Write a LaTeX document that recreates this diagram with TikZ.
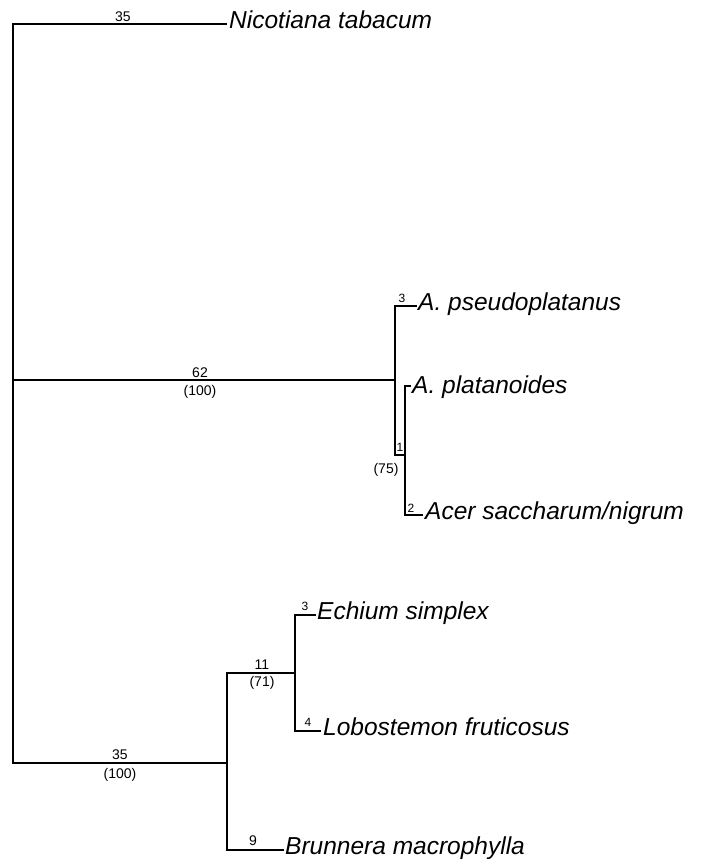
\documentclass[tikz,border=0pt]{standalone}
\usepackage{fontspec}
\setmainfont{Liberation Sans}
\begin{document}
\begin{tikzpicture}[x=1pt,y=-1pt,
  br/.style={line width=2pt,line cap=rect},
  taxon/.style={anchor=base west,inner sep=0pt,font=\fontsize{24.5}{26}\selectfont\itshape},
  num/.style={inner sep=0pt,font=\fontsize{14}{15}\selectfont},
  snum/.style={inner sep=0pt,font=\fontsize{12}{13}\selectfont}]
\useasboundingbox (0,0) rectangle (705,862);
% internal nodes
\coordinate (rootT) at (13,24);
\coordinate (rootM) at (13,380);
\coordinate (rootB) at (13,763);
\coordinate (acerT) at (395,306);
\coordinate (acerM) at (395,380);
\coordinate (acerB) at (395,455);
\coordinate (inT) at (405,386);
\coordinate (inM) at (405,455);
\coordinate (inB) at (405,515);
\coordinate (borT) at (227,673);
\coordinate (borM) at (227,763);
\coordinate (borB) at (227,850);
\coordinate (lobT) at (295,615);
\coordinate (lobM) at (295,673);
\coordinate (lobB) at (295,731);
% leaf tips
\coordinate (tNic) at (226,24);
\coordinate (tPse) at (416,306);
\coordinate (tPla) at (410,386);
\coordinate (tSac) at (422,515);
\coordinate (tEch) at (315,615);
\coordinate (tLob) at (320,731);
\coordinate (tBru) at (283,850);
% taxa
\node[taxon] (nic) at (229,28) {Nicotiana tabacum};
\node[taxon] (pse) at (418,310) {A. pseudoplatanus};
\node[taxon] (pla) at (412,393) {A. platanoides};
\node[taxon] (sac) at (425,519) {Acer saccharum/nigrum};
\node[taxon] (ech) at (317,619) {Echium simplex};
\node[taxon] (lob) at (323,735) {Lobostemon fruticosus};
\node[taxon] (bru) at (285,854) {Brunnera macrophylla};
% branches
\draw[br] (rootT) -- (rootB);
\draw[br] (rootT) -- (tNic);
\draw[br] (rootM) -- (acerM);
\draw[br] (rootB) -- (borM);
\draw[br] (acerT) -- (acerB);
\draw[br] (acerT) -- (tPse);
\draw[br] (acerB) -- (inM);
\draw[br] (inT) -- (inB);
\draw[br] (inT) -- (tPla);
\draw[br] (inB) -- (tSac);
\draw[br] (borT) -- (borB);
\draw[br] (borT) -- (lobM);
\draw[br] (borB) -- (tBru);
\draw[br] (lobT) -- (lobB);
\draw[br] (lobT) -- (tEch);
\draw[br] (lobB) -- (tLob);
% branch labels
\node[num] (l1) at (123,17) {35};
\node[num] (l2) at (200,373) {62};
\node[num] (l3) at (200,392) {(100)};
\node[snum] (l4) at (402,298) {3};
\node[snum] (l5) at (400,447) {1};
\node[num] (l6) at (386,470) {(75)};
\node[snum] (l7) at (411,508) {2};
\node[num] (l8) at (262,665) {11};
\node[num] (l9) at (262,683) {(71)};
\node[snum] (l10) at (305,606) {3};
\node[snum] (l11) at (308,722) {4};
\node[num] (l12) at (120,755) {35};
\node[num] (l13) at (120,775) {(100)};
\node[num] (l14) at (253,841) {9};
\end{tikzpicture}
\end{document}
